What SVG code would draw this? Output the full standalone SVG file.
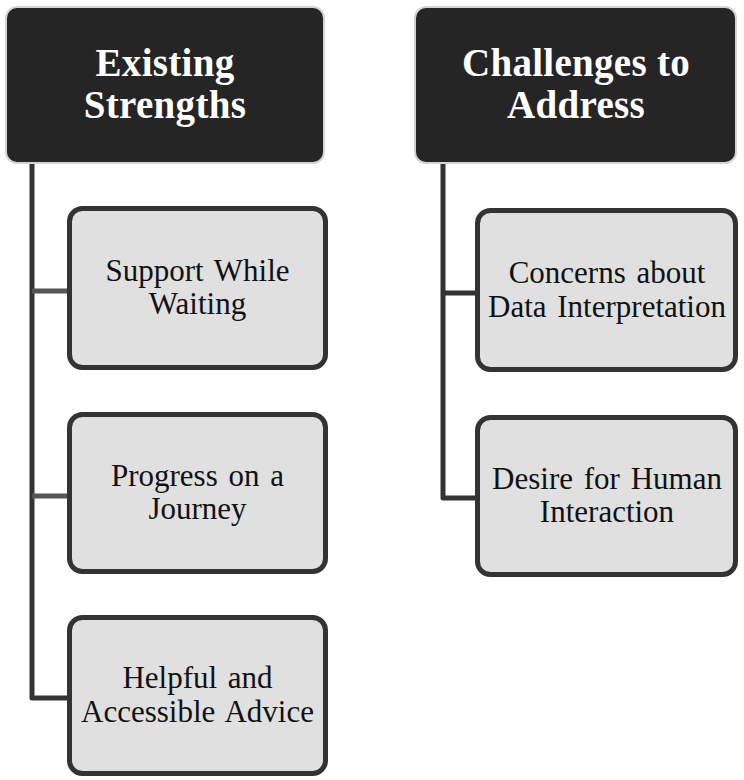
<svg xmlns="http://www.w3.org/2000/svg" width="744" height="780" viewBox="0 0 744 780">
<style>
.hdr{fill:#252525;stroke:#d4d4d4;stroke-width:2}
.box{fill:#e0e0e0;stroke:#333;stroke-width:5}
.ht{font-family:"Liberation Serif",serif;font-weight:bold;font-size:39px;letter-spacing:0.3px;fill:#fff;text-anchor:middle}
.bt{font-family:"Liberation Serif",serif;font-size:31px;word-spacing:3px;fill:#111;text-anchor:middle}
.main{fill:none;stroke:#333;stroke-width:5;stroke-linejoin:round}
.stub{fill:none;stroke:#555;stroke-width:5}
</style>
<rect width="744" height="780" fill="#fff"/>
<g id="connectors">
<path class="main" d="M32,164 V698 H70"/>
<path class="stub" d="M32,291 H70"/>
<path class="stub" d="M32,496 H70"/>
<path class="main" d="M443,164 V498 H478"/>
<path class="main" d="M443,293 H478"/>
</g>
<g id="existing-strengths">
<rect class="hdr" x="6" y="7" width="318" height="156" rx="11"/>
<text class="ht" x="165" y="76">Existing</text>
<text class="ht" x="165" y="118">Strengths</text>
</g>
<g id="challenges">
<rect class="hdr" x="415" y="7" width="321" height="156" rx="11"/>
<text class="ht" x="576" y="76">Challenges to</text>
<text class="ht" x="576" y="118">Address</text>
</g>
<g id="support-while-waiting">
<rect class="box" x="69.5" y="208.5" width="256" height="159" rx="13"/>
<text class="bt" x="197.5" y="281">Support While</text>
<text class="bt" x="197.5" y="314">Waiting</text>
</g>
<g id="progress-on-journey">
<rect class="box" x="69.5" y="414.5" width="256" height="157" rx="13"/>
<text class="bt" x="197.5" y="486">Progress on a</text>
<text class="bt" x="197.5" y="519">Journey</text>
</g>
<g id="helpful-advice">
<rect class="box" x="69.5" y="617.5" width="256" height="156" rx="13"/>
<text class="bt" x="197.5" y="688">Helpful and</text>
<text class="bt" x="197.5" y="722">Accessible Advice</text>
</g>
<g id="data-interpretation">
<rect class="box" x="477.5" y="210.5" width="258" height="159" rx="13"/>
<text class="bt" x="607" y="283">Concerns about</text>
<text class="bt" x="607" y="317">Data Interpretation</text>
</g>
<g id="human-interaction">
<rect class="box" x="477.5" y="417.5" width="258" height="157" rx="13"/>
<text class="bt" x="607" y="489">Desire for Human</text>
<text class="bt" x="607" y="522">Interaction</text>
</g>
</svg>
